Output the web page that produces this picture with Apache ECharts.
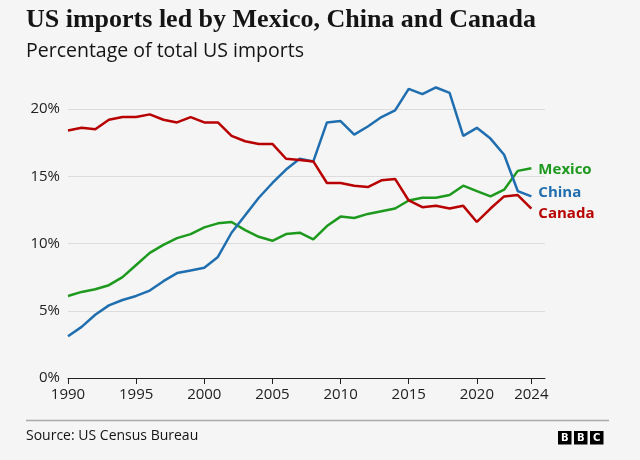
<!DOCTYPE html>
<html><head><meta charset="utf-8">
<script src="https://cdn.jsdelivr.net/npm/echarts@6/dist/echarts.min.js"></script>
<style>html,body{margin:0;padding:0;background:#f5f5f5}#c{width:640px;height:460px}</style>
</head><body><div id="c"></div>
<script>
const years = [];
for (let y = 1990; y <= 2024; y++) years.push(y);
const canada = [18.4,18.6,18.5,19.2,19.4,19.4,19.6,19.2,19.0,19.4,19.0,19.0,18.0,17.6,17.4,17.4,16.3,16.2,16.1,14.5,14.5,14.3,14.2,14.7,14.8,13.2,12.7,12.8,12.6,12.8,11.6,12.6,13.5,13.6,12.6];
const china = [3.1,3.8,4.7,5.4,5.8,6.1,6.5,7.2,7.8,8.0,8.2,9.0,10.8,12.1,13.4,14.5,15.5,16.3,16.1,19.0,19.1,18.1,18.7,19.4,19.9,21.5,21.1,21.6,21.2,18.0,18.6,17.8,16.6,13.9,13.5];
const mexico = [6.1,6.4,6.6,6.9,7.5,8.4,9.3,9.9,10.4,10.7,11.2,11.5,11.6,11.0,10.5,10.2,10.7,10.8,10.3,11.3,12.0,11.9,12.2,12.4,12.6,13.2,13.4,13.4,13.6,14.3,13.9,13.5,14.0,15.4,15.6];
const xTicks = [1990,1995,2000,2005,2010,2015,2020,2024];
const yTicks = [0,5,10,15,20];
const names = ['Mexico','China','Canada'];
const colors = {Mexico:'#1d9a1d', China:'#1f6eb0', Canada:'#b80000'};
const labelOffsets = {Mexico:[-1,2], China:[-1,-4], Canada:[-1,5]};
const dataMap = {Mexico:mexico, China:china, Canada:canada};

const chart = echarts.init(document.getElementById('c'), null, {renderer:'canvas'});
const series = names.map(n => ({
  name:n, type:'line', data: years.map((y,i)=>[y,dataMap[n][i]]),
  showSymbol:false, symbol:'none', clip:false,
  lineStyle:{color:colors[n], width:2.5},
  itemStyle:{color:colors[n]},
  endLabel:{show:true, formatter:n, color:colors[n], fontFamily:'Open Sans', fontWeight:'bold', fontSize:15, offset:labelOffsets[n]},
  emphasis:{disabled:true}, animation:false
}));
chart.setOption({
  backgroundColor:'#f5f5f5',
  animation:false,
  grid:{left:68, right:95, top:109, bottom:82},
  xAxis:{type:'value', min:1990, max:2025,
    axisLine:{show:true, lineStyle:{color:'#222', width:1}},
    axisTick:{show:true, customValues:xTicks, length:6, lineStyle:{color:'#222'}},
    axisLabel:{customValues:xTicks, formatter:v=>String(v), color:'#222', fontFamily:'Open Sans', fontSize:15, margin:9},
    splitLine:{show:false}},
  yAxis:{type:'value', min:0, max:20, interval:5,
    axisLine:{show:false}, axisTick:{show:false},
    axisLabel:{formatter:v=>v+'%', color:'#222', fontFamily:'Open Sans', fontSize:15, margin:8},
    splitLine:{lineStyle:{color:'#dcdcdc', width:1}}},
  series: series,
  graphic:[
    {type:'text', left:26, top:7, style:{text:'US imports led by Mexico, China and Canada', font:'bold 26px "Liberation Serif"', fill:'#141414'}},
    {type:'text', left:26, top:41, style:{text:'Percentage of total US imports', font:'19.5px "Open Sans"', fill:'#141414'}},
    {type:'line', shape:{x1:26, y1:420.5, x2:609, y2:420.5}, style:{stroke:'#aaa', lineWidth:1.5}},
    {type:'text', left:26, top:429, style:{text:'Source: US Census Bureau', font:'14px "Open Sans"', fill:'#141414'}},
    {type:'rect', shape:{x:558,y:431,width:13.5,height:13.5}, style:{fill:'#000'}},
    {type:'rect', shape:{x:574,y:431,width:13.5,height:13.5}, style:{fill:'#000'}},
    {type:'rect', shape:{x:590,y:431,width:13.5,height:13.5}, style:{fill:'#000'}},
    {type:'text', x:564.75, y:438, style:{text:'B', font:'bold 10px "DejaVu Sans"', fill:'#fff', align:'center', verticalAlign:'middle'}},
    {type:'text', x:580.75, y:438, style:{text:'B', font:'bold 10px "DejaVu Sans"', fill:'#fff', align:'center', verticalAlign:'middle'}},
    {type:'text', x:596.75, y:438, style:{text:'C', font:'bold 10px "DejaVu Sans"', fill:'#fff', align:'center', verticalAlign:'middle'}}
  ]
});
</script></body></html>
